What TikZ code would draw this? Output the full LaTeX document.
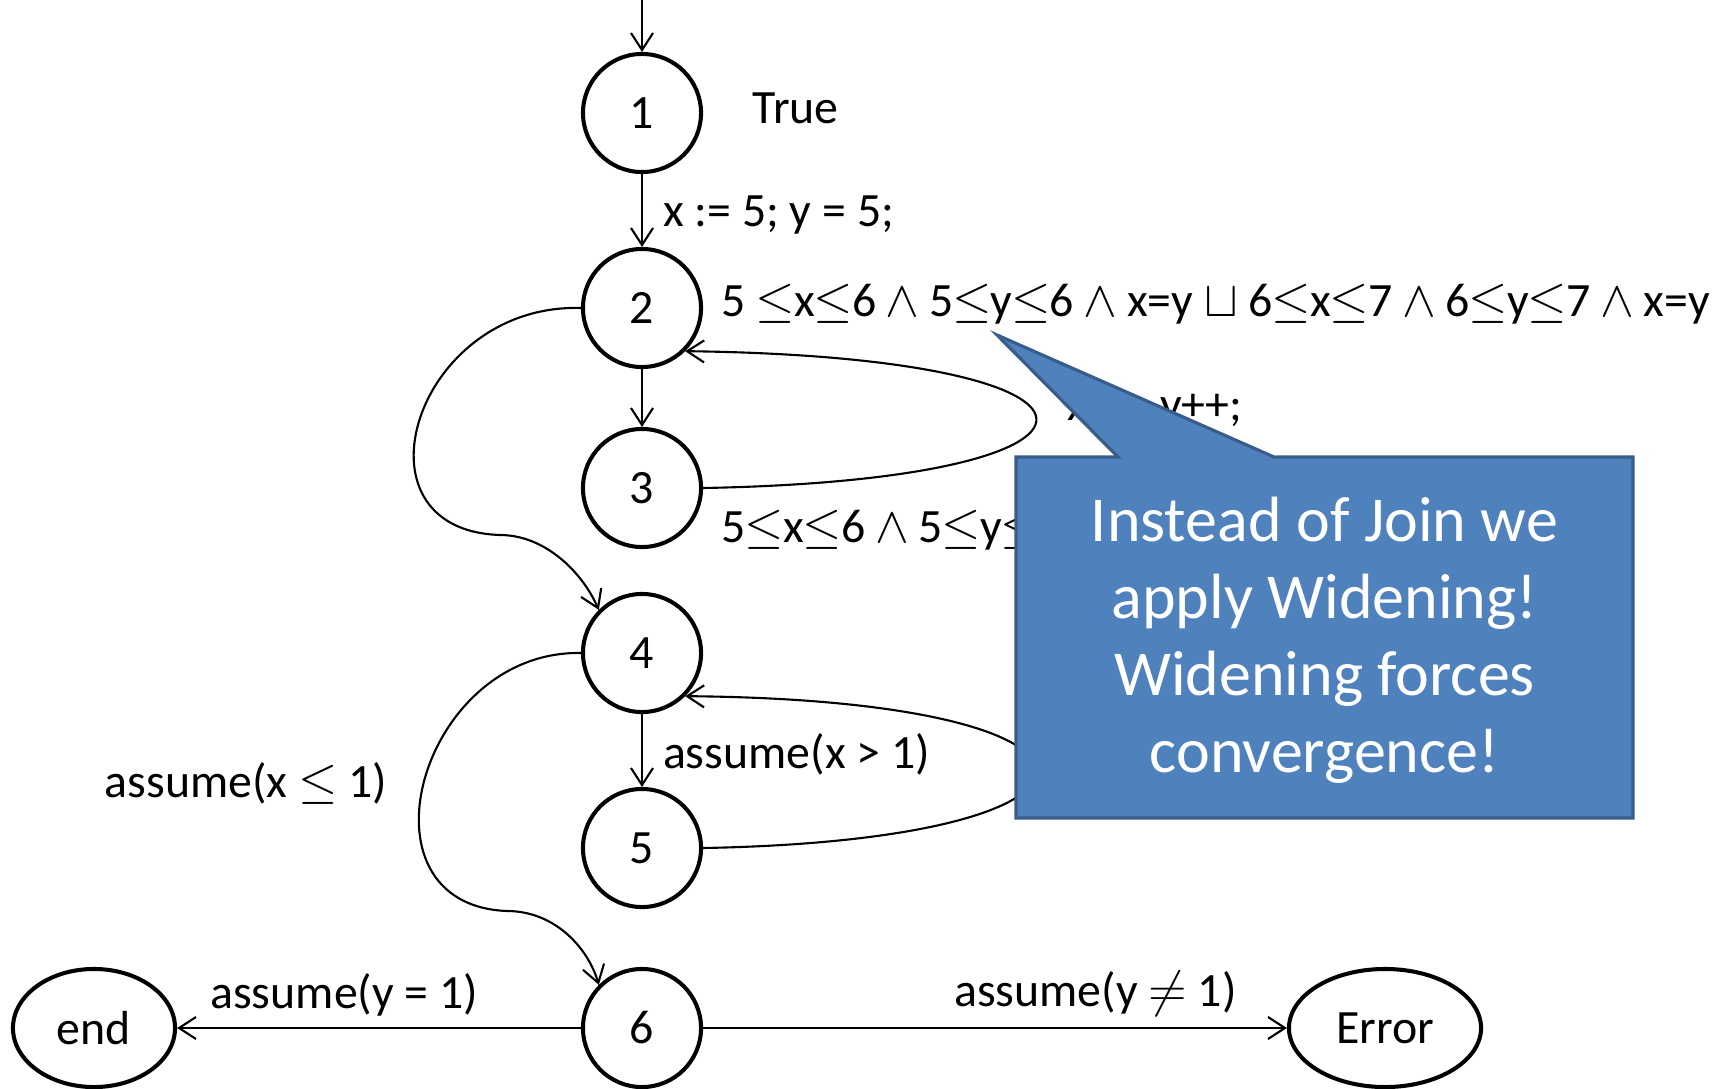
\documentclass[tikz,border=0pt]{standalone}
\usepackage{fontspec}
\setmainfont{Carlito}
\definecolor{calloutblue}{RGB}{79,129,189}
\definecolor{calloutedge}{RGB}{56,93,138}
\usetikzlibrary{arrows.meta,positioning,shapes.geometric}
% tight relation signs for the interval constraints
\newcommand{\lesign}{\kern-0.3pt$\leq$\kern-0.3pt}
\newcommand{\andsign}{$\mkern-0.4mu\wedge\mkern-0.4mu$}

\begin{document}
\begin{tikzpicture}[x=0.01cm, y=-0.01cm,
  loc/.style={draw, circle, line width=1.15pt, minimum size=1.18cm, inner sep=0pt, font=\fontsize{13.6}{16}\selectfont},
  exitloc/.style={draw, ellipse, line width=1.15pt, minimum height=1.18cm, inner sep=0pt, font=\fontsize{13.6}{16}\selectfont},
  flow/.style={-{Straight Barb[length=1.7mm,width=2.2mm]}, line width=0.6pt},
  lbl/.style={inner sep=0pt, font=\fontsize{13.6}{16}\selectfont},
  calloutshape/.style={fill=calloutblue, draw=calloutedge, line width=0.9pt, line join=miter},
  callouttext/.style={text=white, align=center, inner sep=0pt, font=\fontsize{18.2}{21.9}\selectfont}]
  \useasboundingbox (0,0) rectangle (1722,1088);

  % locations of the program
  \coordinate (entry) at (642,0);
  \node[loc] (n1) at (642,113) {1};
  \node[loc] (n2) at (642,308) {2};
  \node[loc] (n3) at (642,488) {3};
  \node[loc] (n4) at (642,653) {4};
  \node[loc] (n5) at (642,848) {5};
  \node[loc] (n6) at (642,1028) {6};
  \node[exitloc, minimum width=1.62cm] (end) at (94,1028) {end};
  \node[exitloc, minimum width=1.92cm] (error) at (1385,1028) {Error};

  % abstract values and updates
  \node[lbl, anchor=west] (inv1) at (752,108) {True};
  \node[lbl, anchor=west] (inv2) at (721,304) {5 \lesign x\lesign 6 \andsign{} 5\lesign y\lesign 6 \andsign{} x=y $\sqcup$ 6\lesign x\lesign 7 \andsign{} 6\lesign y\lesign 7 \andsign{} x=y};
  \node[lbl, anchor=west] (upd2) at (1067,411) {x++; y++;};
  \node[lbl, anchor=west] (inv3) at (721,530) {5\lesign x\lesign 6 \andsign{} 5\lesign y\lesign 6};
  \node[lbl] (exitlbl) at (246,783) {assume(x $\leq$ 1)};

  % edges
  \draw[flow] (entry) -- (n1);
  \draw[flow] (n1) -- node[lbl, right=0.2cm, yshift=-0.05cm] {x := 5; y = 5;} (n2);
  \draw[flow] (n2) -- (n3);
  \draw[flow] (n3.east) .. controls (1150,480) and (1150,357) .. (n2.south east);
  \draw[flow] (n2.west) .. controls (415,303) and (345,530) .. (500,535) .. controls (545,535) and (582,572) .. (n4.north west);
  \draw[flow] (n4) -- node[lbl, right=0.2cm, yshift=-0.04cm] {assume(x > 1)} (n5);
  \draw[flow] (n5.east) .. controls (1150,840) and (1150,700) .. (n4.south east);
  \draw[flow] (n4.west) .. controls (420,650) and (350,905) .. (507,911) .. controls (555,911) and (588,948) .. (n6.north west);
  \draw[flow] (n6) -- node[lbl, above=0.11cm, pos=0.586] {assume(y = 1)} (end);
  \draw[flow] (n6) -- node[lbl, above=0.11cm, pos=0.672] {assume(y $\neq$ 1)} (error);

  % widening note
  \coordinate (tip) at (997,335);
  \filldraw[calloutshape] (1016,457) -- (1118,457) -- (tip) -- (1274,457) -- (1633,457) -- (1633,818) -- (1016,818) -- cycle;
  \node[callouttext] (widen) at (1324.5,640) {Instead of Join we\\apply Widening!\\Widening forces\\convergence!};
\end{tikzpicture}
\end{document}
